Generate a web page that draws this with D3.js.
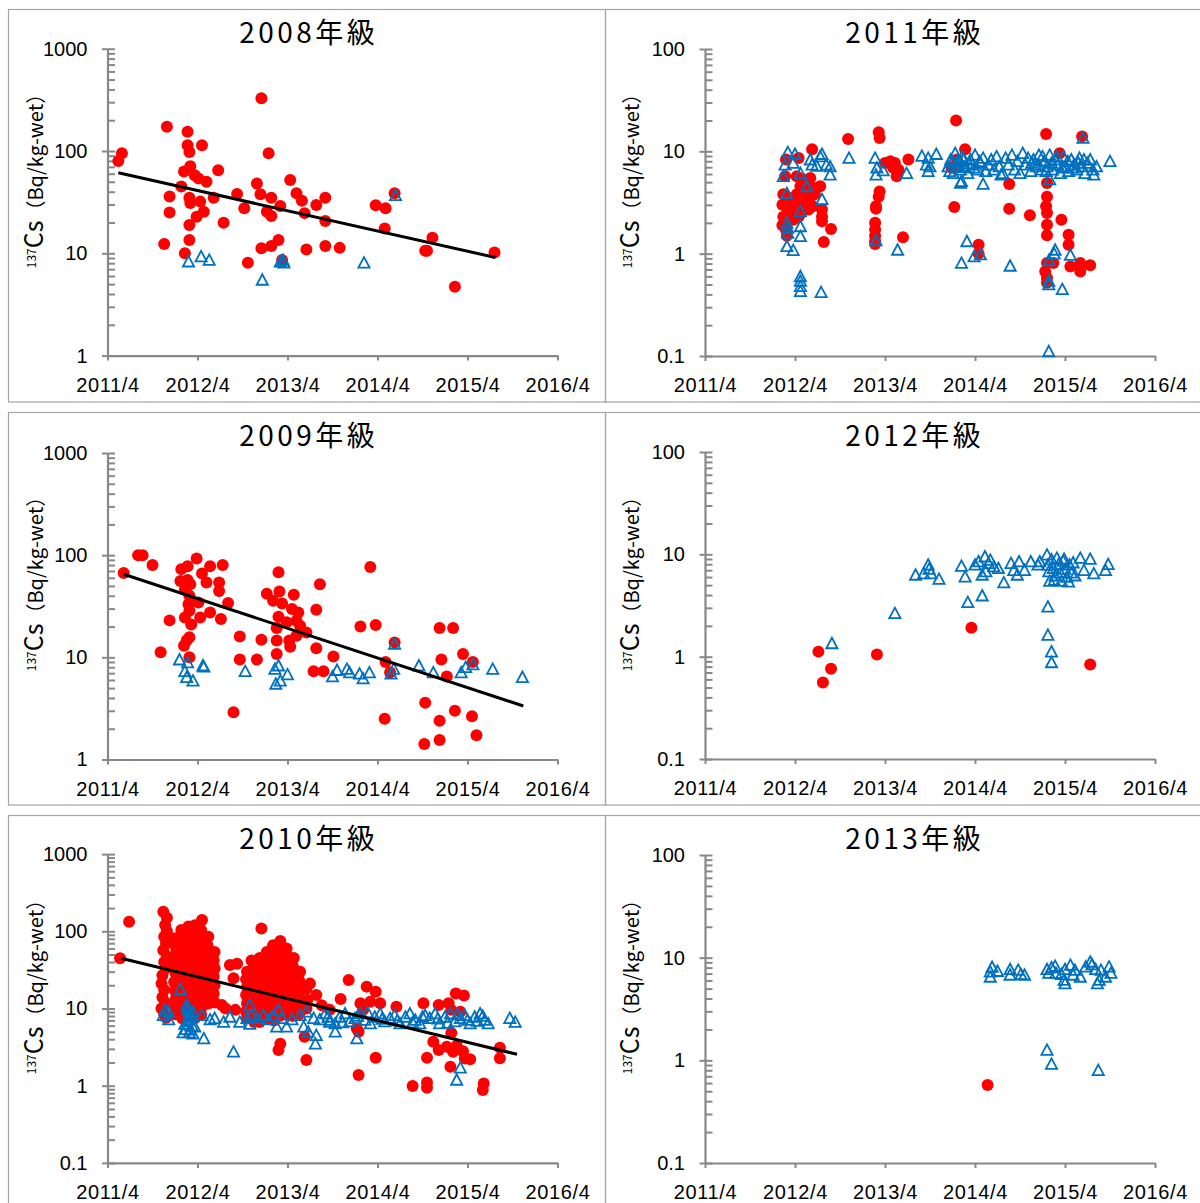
<!DOCTYPE html>
<html><head><meta charset="utf-8">
<script src="https://cdnjs.cloudflare.com/ajax/libs/d3/7.8.5/d3.min.js"></script>
<style>
body{margin:0;background:#fff;}
svg{display:block;}
.tick text{font-family:"Liberation Sans",Arial,sans-serif;font-size:20px;fill:#000;}
</style></head><body>
<svg id="c" width="1200" height="1203"></svg>
<script>
// ---------------- DATA ----------------
const categories = ["2008年級","2011年級","2009年級","2012年級","2010年級","2013年級"];
const xTickYears = [2011.25,2012.25,2013.25,2014.25,2015.25,2016.25];
const xTickLabels = ["2011/4","2012/4","2013/4","2014/4","2015/4","2016/4"];
const yTicks1to1000 = [1,10,100,1000];
const yLabels1to1000 = ["1","10","100","1000"];
const yTicks01to100 = [0.1,1,10,100];
const yLabels01to100 = ["0.1","1","10","100"];
const yTicks01to1000 = [0.1,1,10,100,1000];
const yLabels01to1000 = ["0.1","1","10","100","1000"];

// [decimal year, Bq/kg-wet]
const red2008 = [[2011.37,80],[2011.41,95],[2011.91,173],[2012.14,154],[2012.14,114],[2012.16,98],[2012.30,114],[2012.17,71],[2012.10,63],[2012.22,58],[2012.26,54],[2012.35,50],[2012.48,65],[2012.07,45],[2011.94,36],[2011.94,25],[2012.16,35],[2012.28,32],[2012.17,31],[2012.32,25.5],[2012.43,35],[2012.24,22.8],[2012.16,18.9],[2011.88,12.3],[2012.16,13.5],[2012.11,10],[2012.54,19.9],[2012.69,38],[2012.77,27.5],[2012.81,8.1],[2012.96,327],[2012.91,48],[2012.95,37.7],[2013.04,95],[2013.07,35],[2013.02,25.5],[2013.07,23.2],[2013.17,29],[2012.96,11.2],[2013.07,11.8],[2013.15,13.5],[2013.19,8.6],[2013.28,52],[2013.35,38.6],[2013.41,32.7],[2013.44,24.7],[2013.57,29.7],[2013.46,10.9],[2013.67,35],[2013.67,20.7],[2013.67,11.8],[2013.83,11.3],[2014.23,29.5],[2014.34,27.5],[2014.44,38.6],[2014.33,17.5],[2014.86,14.2],[2014.78,10.6],[2014.80,10.6],[2015.11,4.7],[2015.55,10.2]];
const blue2008 = [[2012.15,8.3],[2012.29,9.3],[2012.38,8.6],[2012.97,5.5],[2013.17,8.3],[2013.20,8.6],[2013.21,8.1],[2014.10,8.1],[2014.45,37]];
const trend2008 = [[2011.37,61.4],[2015.56,9.1]];

const red2009 = [[2011.43,67],[2011.59,100],[2011.64,100],[2011.75,80],[2011.84,11.2],[2011.94,23],[2012.07,73],[2012.14,78],[2012.24,93],[2012.06,56],[2012.14,57],[2012.17,52],[2012.11,46],[2012.16,40],[2012.15,33],[2012.26,34.5],[2012.16,28.6],[2012.11,24.6],[2012.28,24.6],[2012.18,21],[2012.16,15.7],[2012.13,14.6],[2012.10,13],[2012.16,10],[2012.30,66],[2012.35,54],[2012.39,78],[2012.39,27.5],[2012.49,54],[2012.49,44.7],[2012.53,80],[2012.51,23.7],[2012.59,34],[2012.65,2.9],[2012.72,16],[2012.72,9.5],[2012.91,9.5],[2012.96,14.9],[2013.02,42],[2013.09,35.7],[2013.15,68],[2013.16,44],[2013.19,33.6],[2013.15,25],[2013.13,19.4],[2013.13,14.6],[2013.13,10.8],[2013.27,14.6],[2013.28,12.7],[2013.32,40.9],[2013.30,29.7],[2013.37,27.5],[2013.35,22.8],[2013.39,20.4],[2013.24,22],[2013.35,16.3],[2013.46,17.5],[2013.57,29.2],[2013.61,52],[2013.57,12.3],[2013.54,7.3],[2013.65,7.3],[2013.76,10.2],[2014.06,20],[2014.17,76.6],[2014.23,20.7],[2014.33,2.5],[2014.34,9],[2014.39,7.1],[2014.44,14],[2014.78,3.6],[2014.77,1.42],[2014.94,19.4],[2015.09,19.4],[2014.96,9.5],[2015.02,6.5],[2014.94,2.4],[2014.94,1.55],[2015.11,3.0],[2015.20,10.8],[2015.30,2.65],[2015.31,9],[2015.35,1.73]];
const blue2009 = [[2012.05,9.5],[2012.14,8.9],[2012.11,7.3],[2012.13,6.4],[2012.20,5.9],[2012.31,8.3],[2012.32,8.1],[2012.78,7.3],[2013.11,7.7],[2013.15,8.3],[2013.12,5.5],[2013.17,5.9],[2013.25,6.8],[2013.75,6.5],[2013.80,7.5],[2013.91,7.7],[2013.94,7.1],[2014.05,6.9],[2014.09,6.2],[2014.16,7.1],[2014.40,6.9],[2014.43,7.7],[2014.44,13.5],[2014.71,8.3],[2014.87,7.1],[2015.18,7.1],[2015.23,8],[2015.31,8.5],[2015.53,7.7],[2015.86,6.4]];
const trend2009 = [[2011.43,65],[2015.87,3.34]];

const red2010 = [[2011.39,44.7],[2011.49,133],
[2011.87,179],[2011.91,150],[2011.89,121],[2011.91,100],[2011.88,85],[2011.90,70],[2011.87,57],[2011.91,47],[2011.88,40],[2011.90,33],[2011.86,27],[2011.85,21],[2011.88,17.5],[2011.86,14],[2011.89,12],[2011.85,10],[2011.88,8.5],[2011.90,7.6],
[2012.00,81],[2012.01,62],[2011.99,48],[2012.00,37],[2012.01,28],[2011.99,22],[2012.00,17],[2012.01,13.5],[2011.99,10.5],[2012.00,8.4],
[2012.07,104],[2012.08,85],[2012.07,66],[2012.08,52],[2012.07,40],[2012.08,31],[2012.07,24.6],[2012.08,19],[2012.07,15],[2012.08,11.6],[2012.07,9.1],[2012.08,7.5],
[2012.15,115],[2012.14,93],[2012.15,74],[2012.14,58],[2012.15,45],[2012.14,35],[2012.15,27],[2012.14,21],[2012.15,16.5],[2012.14,13],[2012.15,10.5],[2012.14,8.3],
[2012.22,120],[2012.23,95],[2012.22,75],[2012.23,60],[2012.22,47],[2012.23,37],[2012.22,29],[2012.23,23],[2012.22,18],[2012.23,14],[2012.22,11],[2012.23,8.8],[2012.22,7.5],
[2012.30,140],[2012.29,104],[2012.30,80],[2012.29,62],[2012.30,48],[2012.29,37],[2012.30,29],[2012.29,22],[2012.30,17],[2012.29,13.5],[2012.30,10.5],[2012.29,8.3],
[2012.37,85],[2012.36,66],[2012.37,52],[2012.36,40],[2012.37,31],[2012.36,24.6],[2012.37,19],[2012.36,15],[2012.37,11.6],
[2012.44,54],[2012.43,42],[2012.44,33],[2012.43,26],[2012.44,20],[2012.43,15.5],[2012.44,12],
[2012.61,36.6],[2012.69,38],[2012.65,24.6],[2012.56,10],[2012.67,9.6],[2012.52,11.1],[2012.85,42],[2012.96,109],
[2012.80,30],[2012.79,24],[2012.80,19],[2012.79,15],[2012.80,11.6],[2012.79,9.1],[2012.80,7.5],
[2012.87,33],[2012.88,26],[2012.87,20],[2012.88,16],[2012.87,12.5],[2012.88,10],[2012.87,8],[2012.88,6.7],
[2012.94,45],[2012.95,35],[2012.94,27],[2012.95,21],[2012.94,16.5],[2012.95,13],[2012.94,10],[2012.95,8],[2012.94,6.7],
[2013.02,54],[2013.01,42],[2013.02,33],[2013.01,26],[2013.02,20],[2013.01,15.5],[2013.02,12],[2013.01,9.5],[2013.02,7.5],
[2013.09,66],[2013.10,52],[2013.09,40],[2013.10,31],[2013.09,24.6],[2013.10,19],[2013.09,15],[2013.10,11.6],[2013.09,9.1],[2013.10,7],
[2013.17,75],[2013.16,58],[2013.17,45],[2013.16,35],[2013.17,27],[2013.16,21],[2013.17,16.5],[2013.16,13],[2013.17,10],[2013.16,8],
[2013.24,60],[2013.25,47],[2013.24,37],[2013.25,29],[2013.24,22],[2013.25,17],[2013.24,13.5],[2013.25,10.5],[2013.24,8.3],
[2013.32,45],[2013.31,35],[2013.32,27],[2013.31,21],[2013.32,16.5],[2013.31,13],[2013.32,10],[2013.31,8],
[2013.39,30],[2013.38,23],[2013.39,18],[2013.38,14],[2013.39,11],[2013.38,8.5],
[2013.46,18],[2013.47,13],[2013.46,10],[2013.50,21],[2013.57,15],[2013.63,11],[2013.72,9.6],
[2013.17,3.5],[2013.15,2.9],[2013.46,2.15],[2013.44,4.3],
[2013.93,23.4],[2013.84,13.3],[2014.13,19.2],[2014.23,16.5],[2014.06,11.7],[2014.17,12.2],[2014.28,11.7],[2014.09,9.6],[2014.02,5.5],[2014.04,5.0],[2014.23,2.3],[2014.04,1.38],[2014.46,10.5],[2014.76,11.7],[2014.93,11.1],[2015.04,11.7],[2015.12,15.6],[2015.21,14.7],[2015.07,9.6],[2015.17,9.1],[2015.07,4.8],[2014.87,3.7],[2014.80,2.3],[2014.93,2.9],[2015.02,3.2],[2015.09,2.76],[2015.13,3.3],[2015.20,2.8],[2015.28,2.2],[2015.22,2.25],[2015.06,1.76],[2014.64,0.99],[2014.80,1.1],[2014.80,0.94],[2015.43,1.07],[2015.42,0.88],[2015.61,3.1],[2015.61,2.26]];
const blue2010 = [[2011.87,8.2],[2011.89,9.6],[2011.93,9.1],[2011.93,7.2],[2012.06,17.7],[2012.13,11.1],[2012.15,9.6],[2012.17,8.2],[2012.14,7.2],[2012.11,6.3],[2012.19,6.0],[2012.12,5.4],[2012.16,4.9],[2012.20,4.7],[2012.22,5.8],[2012.09,4.9],[2012.14,10.5],[2012.16,8.8],[2012.18,7.8],[2012.13,6.8],[2012.17,5.3],[2012.20,9.0],[2012.32,4.1],[2012.30,8.2],[2012.39,7.2],[2012.44,7.5],[2012.54,6.7],[2012.61,7.8],[2012.65,2.76],[2012.72,6.7],[2012.80,7.5],[2012.83,11.1],[2012.83,6.3],[2012.85,8.2],[2012.91,7.5],[2012.98,8.2],[2013.04,7.2],[2013.09,8.2],[2013.15,9.6],[2013.13,5.8],[2013.19,7.5],[2013.24,5.8],[2013.30,7.2],[2013.39,8.2],[2013.43,5.8],[2013.46,9.1],[2013.48,5.0],[2013.54,7.5],[2013.57,4.5],[2013.56,3.5],[2013.61,7.2],[2013.72,6.7],
[2013.67,8.6],[2013.72,7.1],[2013.78,6.4],[2013.78,5.0],[2013.83,7.8],[2013.89,8.6],[2013.94,6.8],[2014.00,7.5],[2014.02,4.1],[2014.06,8.6],[2014.11,7.1],[2014.17,6.4],[2014.22,7.8],[2014.28,8.6],[2014.33,6.8],[2014.39,7.5],[2014.44,8.2],[2014.50,6.4],[2014.56,7.8],[2014.61,8.6],[2014.67,7.1],[2014.72,6.4],[2014.78,8.2],[2014.83,7.5],[2014.89,8.6],[2014.94,6.4],[2015.00,7.8],[2015.06,8.6],[2015.11,6.8],[2015.17,7.5],[2015.22,8.2],[2015.28,6.4],[2015.33,7.8],[2015.39,8.6],[2015.44,7.1],[2015.48,6.4],[2015.17,1.71],[2015.13,1.19],[2015.72,7.5],[2015.78,6.7],
[2013.70,7.8],[2013.86,6.6],[2014.03,8.0],[2014.14,8.9],[2014.30,7.3],[2014.47,7.0],[2014.64,6.6],[2014.75,7.8],[2014.92,7.4],[2015.03,6.5],[2015.14,8.4],[2015.25,7.1],[2015.36,6.9],[2015.42,8.0]];
const trend2010 = [[2011.40,44.7],[2015.80,2.55]];

const red2011 = [[2012.15,8.3],[2012.29,8.6],[2012.44,10.5],[2012.84,13.2],[2013.18,15.4],[2013.19,13.5],[2014.04,20],[2014.02,2.86],
[2013.25,7.7],[2013.31,8.0],[2013.36,7.7],[2013.40,6.6],[2013.38,5.7],[2013.34,6.9],[2013.51,8.3],
[2013.19,4.06],[2013.18,3.6],[2013.15,2.9],[2013.15,2.75],[2013.14,2.0],[2013.14,1.72],[2013.14,1.5],[2013.14,1.32],[2013.14,1.24],[2013.45,1.45],
[2012.14,5.7],[2012.12,3.8],[2012.16,3.6],[2012.11,3.0],[2012.17,2.7],[2012.12,2.3],[2012.16,2.1],[2012.11,1.9],[2012.15,1.7],[2012.16,1.5],
[2012.27,5.7],[2012.34,5.3],[2012.42,5.5],[2012.31,4.55],[2012.38,4.7],[2012.45,4.4],[2012.27,3.8],[2012.34,3.9],[2012.42,3.6],[2012.47,3.8],[2012.23,3.1],[2012.31,3.0],[2012.38,3.1],[2012.45,2.9],[2012.25,2.6],[2012.32,2.5],[2012.40,2.7],[2012.29,2.3],[2012.23,2.15],
[2012.53,4.55],[2012.55,2.7],[2012.55,2.3],[2012.55,2.07],[2012.65,1.74],[2012.57,1.3],
[2014.14,10.5],[2014.05,8.3],[2013.99,6.9],[2014.63,4.8],[2014.63,2.75],[2014.86,2.37],[2014.29,1.22],[2014.29,1.0],[2015.04,14.8],[2015.19,9.6],[2015.44,14],[2015.05,4.9],[2015.05,3.6],[2015.04,2.9],[2015.05,2.5],[2015.05,1.92],[2015.05,1.51],[2015.21,2.15],[2015.29,1.53],[2015.29,1.22],[2015.05,0.81],[2015.03,0.67],[2015.05,0.58],[2015.05,0.52],[2015.12,0.81],[2015.31,0.75],[2015.42,0.81],[2015.42,0.67],[2015.53,0.77]];
const blue2011 = [[2012.17,9.8],[2012.25,9.4],[2012.23,7.7],[2012.14,7.4],[2012.12,5.7],[2012.31,6.1],[2012.42,8.3],[2012.49,7.2],[2012.53,8.9],[2012.55,9.4],[2012.60,7.4],[2012.64,7.1],[2012.64,5.9],[2012.44,7.4],
[2012.38,4.55],[2012.55,3.4],[2012.31,2.6],[2012.16,3.9],[2012.16,2.0],[2012.17,1.78],[2012.17,1.59],[2012.31,1.85],[2012.31,1.48],[2012.16,1.18],[2012.23,1.08],
[2012.31,0.6],[2012.31,0.54],[2012.31,0.48],[2012.31,0.43],[2012.54,0.42],
[2012.85,8.6],[2013.14,8.6],[2013.16,6.9],[2013.15,5.9],[2013.23,6.5],[2013.15,1.35],[2013.39,1.09],[2013.49,6.1],
[2013.66,9.0],[2013.73,8.6],[2013.82,9.4],[2013.71,7.4],[2013.73,6.4],[2013.97,6.4],[2014.05,7.1],[2014.08,8.0],[2014.12,8.3],[2014.10,5.1],[2014.16,1.32],[2014.10,0.81],
[2013.75,7.1],[2014.09,4.9],[2014.34,4.8],[2014.54,5.9],[2015.75,8.0],[2015.57,5.9],[2015.08,5.3],[2015.45,13.5],[2014.24,0.94],[2014.31,0.98],[2014.64,0.76],[2015.14,1.09],[2015.13,1.0],[2015.31,0.97],[2015.07,0.86],[2015.07,0.54],[2015.07,0.50],[2015.22,0.45],[2015.07,0.111],
[2013.95,7.1],[2013.98,8.3],[2014.01,6.1],[2014.03,9.6],[2014.06,7.4],[2014.09,6.6],[2014.11,8.9],[2014.14,7.1],[2014.17,6.1],[2014.20,8.3],[2014.22,7.4],[2014.25,9.2],[2014.28,6.6],[2014.31,7.7],[2014.34,8.6],[2014.37,6.4],[2014.40,7.4],[2014.43,8.3],[2014.46,6.6],[2014.49,8.9],[2014.52,7.1],[2014.56,6.1],[2014.59,8.6],[2014.62,7.4],[2014.66,9.2],[2014.69,6.6],[2014.72,8.0],[2014.75,6.1],[2014.78,9.6],[2014.81,7.4],[2014.84,8.6],[2014.87,6.4],[2014.90,8.3],[2014.93,7.1],[2014.96,9.2],[2014.99,6.6],[2015.02,8.0],[2015.05,7.1],[2015.08,9.2],[2015.11,6.6],[2015.14,8.3],[2015.17,7.4],[2015.20,6.1],[2015.23,8.9],[2015.26,7.1],[2015.29,6.4],[2015.32,8.3],[2015.35,7.4],[2015.38,6.6],[2015.41,8.6],[2015.44,7.1],[2015.47,6.1],[2015.50,7.7],[2015.53,8.3],[2015.56,6.6],[2015.60,7.1],
[2014.88,7.7],[2014.95,7.4],[2015.00,8.9],[2015.04,6.4],[2015.10,7.7],[2015.16,8.9],[2015.22,6.9],[2015.28,8.0],[2015.34,6.9],[2015.40,7.7],[2015.46,8.3],[2014.00,7.9],[2014.05,8.1],[2014.12,7.0],[2014.18,7.6],[2014.24,6.9],[2014.30,8.0]];

const red2012 = [[2012.51,1.12],[2012.56,0.56],[2012.65,0.76],[2013.16,1.05],[2014.21,1.92],[2015.53,0.84]];
const blue2012 = [[2012.66,1.35],[2013.36,2.66],[2013.59,6.3],[2013.68,6.5],[2013.73,7.9],[2013.74,7.2],[2013.76,6.5],[2013.85,5.75],[2014.10,7.7],[2014.14,6.05],[2014.17,3.4],[2014.33,3.95],[2014.57,5.3],[2015.06,3.08],[2015.06,1.63],[2015.10,1.12],[2015.10,0.88],
[2014.25,7.9],[2014.29,8.5],[2014.36,9.5],[2014.40,8.2],[2014.42,8.8],[2014.46,7.6],[2014.37,6.8],[2014.33,6.3],[2014.51,7.3],
[2014.65,8.2],[2014.68,7.0],[2014.74,8.5],[2014.72,6.3],[2014.80,7.0],[2014.87,8.5],[2014.97,8.5],[2014.95,7.9],
[2015.05,9.9],[2015.06,7.9],[2015.07,6.8],[2015.08,5.5],[2015.10,8.9],[2015.12,7.3],[2015.14,6.2],[2015.16,9.2],[2015.18,8.0],[2015.20,6.6],[2015.21,5.5],[2015.23,8.6],[2015.25,7.2],[2015.27,6.0],[2015.29,5.4],[2015.30,7.9],[2015.32,6.6],[2015.34,8.3],[2015.36,6.2],[2015.13,5.6],[2015.24,9.0],
[2015.42,9.2],[2015.53,9.0],[2015.46,7.0],[2015.57,6.5],[2015.70,7.0],[2015.73,8.0]];

const red2013 = [[2014.39,0.575]];
const blue2013 = [[2014.42,7.3],[2014.42,6.5],[2014.44,8.1],[2014.50,7.4],[2014.64,7.7],[2014.64,6.8],[2014.73,7.6],[2014.76,6.9],[2014.80,6.8],[2015.05,7.7],[2015.07,7.1],[2015.10,8.0],[2015.14,8.3],[2015.15,7.1],[2015.05,1.26],[2015.10,0.92],[2015.21,6.9],[2015.25,7.7],[2015.24,6.05],[2015.25,5.6],[2015.31,8.5],[2015.36,7.6],[2015.34,6.8],[2015.42,6.5],[2015.48,8.15],[2015.53,9.1],[2015.55,8.6],[2015.59,7.7],[2015.65,7.6],[2015.61,5.6],[2015.63,6.05],[2015.74,8.15],[2015.76,7.1],[2015.70,6.5],[2015.62,0.80]];

// ---------------- LAYOUT ----------------
const panels = [
  {title:categories[0], red:red2008, blue:blue2008, trend:trend2008, bx:8.5, by:9.5, x0:107.5, yTop:48.7, yBot:355.6, dom:[1,1000], ticks:yTicks1to1000, labels:yLabels1to1000},
  {title:categories[1], red:red2011, blue:blue2011, trend:null, bx:605.5, by:9.5, x0:705, yTop:49, yBot:356, dom:[0.1,100], ticks:yTicks01to100, labels:yLabels01to100},
  {title:categories[2], red:red2009, blue:blue2009, trend:trend2009, bx:8.5, by:412.5, x0:107.5, yTop:453, yBot:759.5, dom:[1,1000], ticks:yTicks1to1000, labels:yLabels1to1000},
  {title:categories[3], red:red2012, blue:blue2012, trend:null, bx:605.5, by:412.5, x0:705, yTop:452, yBot:759, dom:[0.1,100], ticks:yTicks01to100, labels:yLabels01to100},
  {title:categories[4], red:red2010, blue:blue2010, trend:trend2010, bx:8.5, by:815.5, x0:107.5, yTop:854.1, yBot:1162.9, dom:[0.1,1000], ticks:yTicks01to1000, labels:yLabels01to1000},
  {title:categories[5], red:red2013, blue:blue2013, trend:null, bx:605.5, by:815.5, x0:705, yTop:855, yBot:1163, dom:[0.1,100], ticks:yTicks01to100, labels:yLabels01to100}
];

const svg = d3.select("#c");
const AX = "#888888";
const triPath = "M0,-5.6L5.6,4.9L-5.6,4.9Z";

panels.forEach((p, idx) => {
  const g = svg.append("g");
  const right = p.bx > 300;
  g.append("rect").attr("x", p.bx).attr("y", p.by)
    .attr("width", right ? 620 : 597).attr("height", 392.5)
    .attr("fill", "none").attr("stroke", "#a6a6a6").attr("stroke-width", 1.2);

  const x = d3.scaleLinear().domain([2011.25, 2016.25]).range([p.x0, p.x0 + 450]);
  const y = d3.scaleLog().domain(p.dom).range([p.yBot, p.yTop]);

  const inner = [];
  const lo = Math.round(Math.log10(p.dom[0])), hi = Math.round(Math.log10(p.dom[1]));
  for (let k = lo; k <= hi; k++) {
    const b = Math.pow(10, k);
    inner.push(b);
    if (k < hi) for (let m = 2; m <= 9; m++) inner.push(m * b);
  }
  const yin = g.append("g").attr("transform", `translate(${p.x0},0)`)
    .call(d3.axisRight(y).tickValues(inner).tickFormat("").tickSize(7.5).tickSizeOuter(0));
  yin.select(".domain").remove();

  const ya = g.append("g").attr("transform", `translate(${p.x0},0)`)
    .call(d3.axisLeft(y).tickValues(p.ticks).tickFormat((d, i) => p.labels[i]).tickSize(5.5).tickSizeOuter(0).tickPadding(14.5));
  const xa = g.append("g").attr("transform", `translate(0,${p.yBot})`)
    .call(d3.axisBottom(x).tickValues(xTickYears).tickFormat((d, i) => xTickLabels[i]).tickSize(5).tickSizeOuter(0).tickPadding(17));
  xa.selectAll(".tick text").attr("letter-spacing", "0.6px");

  [yin, ya, xa].forEach(a => {
    a.selectAll(".domain").attr("stroke", AX).attr("stroke-width", 2.2);
    a.selectAll(".tick line").attr("stroke", AX).attr("stroke-width", 2);
  });

  g.append("g").selectAll("circle").data(p.red).join("circle")
    .attr("cx", d => x(d[0])).attr("cy", d => y(d[1])).attr("r", 6)
    .attr("fill", "#ff0000");
  g.append("g").selectAll("path").data(p.blue).join("path")
    .attr("d", triPath)
    .attr("transform", d => `translate(${x(d[0])},${y(d[1])})`)
    .attr("fill", "none").attr("stroke", "#0070c0").attr("stroke-width", 1.8)
    .attr("stroke-linejoin", "miter");
  if (p.trend) {
    g.append("path").datum(p.trend)
      .attr("d", d3.line().x(d => x(d[0])).y(d => y(d[1])))
      .attr("stroke", "#000").attr("stroke-width", 3).attr("fill", "none");
  }

  g.append("text").attr("x", (right ? 913 : 307) + 1.75).attr("y", p.by + 33.5)
    .attr("text-anchor", "middle")
    .attr("font-family", "'Noto Sans CJK JP','Noto Sans',sans-serif")
    .attr("font-size", 28).attr("letter-spacing", "3.5px").attr("fill", "#000")
    .text(p.title);

  const lx = right ? 639 : 43;
  const lt = g.append("text")
    .attr("transform", `translate(${lx},${p.by + 166.5}) rotate(-90)`)
    .attr("text-anchor", "middle")
    .attr("font-family", "'Noto Sans CJK JP','Noto Sans',sans-serif")
    .attr("fill", "#000");
  lt.append("tspan").attr("font-size", 12).attr("dy", -7).text("137");
  lt.append("tspan").attr("font-size", 25).attr("dy", 7).text("Cs");
  lt.append("tspan").attr("font-size", 20).text("（Bq/kg-wet）");
});
</script>
</body></html>
